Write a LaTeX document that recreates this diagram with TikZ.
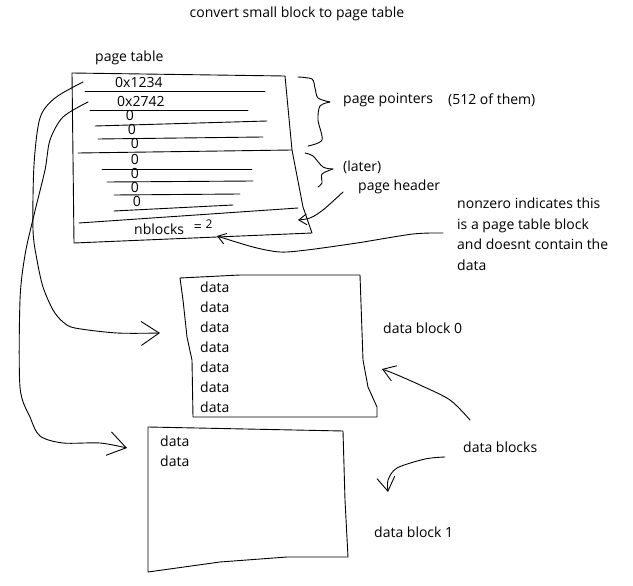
\documentclass[tikz,border=0pt]{standalone}
\usepackage{fontspec}
\setmainfont{Open Sans}
\usetikzlibrary{arrows.meta}
\tikzset{
	>=latex,
	txt/.style={inner sep=0,anchor=west,font=\fontsize{14}{17}\selectfont}, % plain text, placed by its left end
	entry/.style={txt,anchor=center},
	zero/.style={entry,text height=7.5pt,text depth=0pt}, % tight box, the zeros sit close
	sketch/.style={line width=0.9,black,line join=round,line cap=round},
	connect arrow/.style={sketch,-{Straight Barb[length=18,width=24]}},
	small arrow/.style={sketch,-{Straight Barb[length=8,width=11]}}
}

\begin{document}
\begin{tikzpicture}[x=1pt,y=-1pt]
  \useasboundingbox (0,0) rectangle (633,586);

  % TITLE
  \node[entry] (title) at (297,14) {convert small block to page table};

  % PAGE TABLE
  \node[txt] (pt) at (95,58) {page table};
  \draw[sketch] (72,73) -- (285,76) -- (292,150) -- (303,207) -- (312,233) -- (74,243) -- cycle;
  \foreach \a/\b/\c/\d in {85/91/265/91, 90/110/248/110, 95/126/267/121, 98/139/263/137,
                           78/153/292/150, 102/169/252/169, 107/182/253/181,
                           114/195/240/194, 114/211/233/205, 79/223/298/208}{ % row lines
    \draw[sketch] (\a,\b) -- (\c,\d);
  }
  \node[txt] (p1) at (115,82) {0x1234};
  \node[txt] (p2) at (117,101) {0x2742};
  \foreach \x/\y [count=\i] in {130/117,132/131,135/145,135/161,135/175,135/189,137/203}{ % empty pointers
    \node[zero] (z\i) at (\x,\y) {0};
  }
  \node[txt] (nb) at (134,229) {nblocks};
  \node[entry] (eq) at (198,228) {=};
  \node[entry,font=\fontsize{12}{14}\selectfont] (two) at (209,224) {2};

  % BRACES AND NOTES
  \draw[sketch] plot[smooth] coordinates {(298,77) (312,79) (315,88) (318,98) (330,102)};
  \draw[sketch] plot[smooth] coordinates {(330,102) (320,106) (318,120) (322,140) (308,146)};
  \draw[sketch] plot[smooth] coordinates {(305,153) (313,156) (323,167) (333,169)};
  \draw[sketch] plot[smooth] coordinates {(333,169) (322,174) (322,183) (318,187)};
  \node[txt] (pp) at (343,100) {page pointers};
  \node[txt] (n512) at (448,100) {(512 of them)};
  \node[txt] (later) at (343,167) {(later)};
  \node[txt] (ph) at (358,187) {page header};
  \node[txt,anchor=north west,align=left,font=\fontsize{14}{20.5}\selectfont] (nz) at (457,198)
    {nonzero indicates this\\is a page table block\\and doesnt contain the\\data};

  \coordinate (ph end) at (298,220);
  \coordinate (nz start) at (443,233);
  \coordinate (nb end) at (217,236);
  \draw[small arrow] plot[smooth] coordinates {(343,192) (323,210) (310,218) (ph end)};
  \draw[small arrow] plot[smooth] coordinates {(nz start) (413,234) (357,243) (307,250) (280,252) (253,247) (nb end)};

  % DATA BLOCK 0
  \draw[sketch] (180,278) -- (240,275) -- (360,275) -- (363,360) -- (368,387) -- (377,407) -- (377,417)
    -- (193,417) -- (192,360) -- (187,337) -- (183,300) -- cycle;
  \foreach \i in {0,...,6}{
    \node[txt] (d0-\i) at (200,{287+20*\i}) {data};
  }
  \node[txt] (blk0) at (383,328) {data block 0};

  % DATA BLOCK 1
  \draw[sketch] (148,427) -- (343,431) -- (345,500) -- (348,557) -- (287,557) -- (220,562) -- (148,572) -- cycle;
  \foreach \i in {0,1}{
    \node[txt] (d1-\i) at (160,{441+20*\i}) {data};
  }
  \node[txt] (blk1) at (374,532) {data block 1};

  % POINTERS TO DATA
  \coordinate (ptr1) at (83,82);
  \coordinate (ptr2) at (88,102);
  \coordinate (in0) at (160,333);
  \coordinate (in1) at (127,448);
  \draw[connect arrow] plot[smooth] coordinates {(ptr1) (55,98) (40,118) (34,165) (33,230) (37,260)
    (43,287) (53,310) (63,322) (75,328) (117,333) (in0)};
  \draw[connect arrow] plot[smooth] coordinates {(ptr2) (63,117) (50,140) (45,170) (34,215) (25,255)
    (20,300) (20,387) (30,417) (40,436) (63,443) (100,443) (in1)};

  % DATA BLOCKS LABEL
  \node[txt] (dbs) at (463,447) {data blocks};
  \coordinate (to0) at (382,369);
  \coordinate (to1) at (388,492);
  \draw[sketch,-{Straight Barb[length=12,width=16]}] plot[smooth] coordinates {(470,420) (450,400) (420,385) (395,374) (to0)};
  \draw[sketch,-{Straight Barb[length=14,width=18]}] plot[smooth] coordinates {(445,457) (425,459) (397,468) (388,480) (to1)};
\end{tikzpicture}
\end{document}
